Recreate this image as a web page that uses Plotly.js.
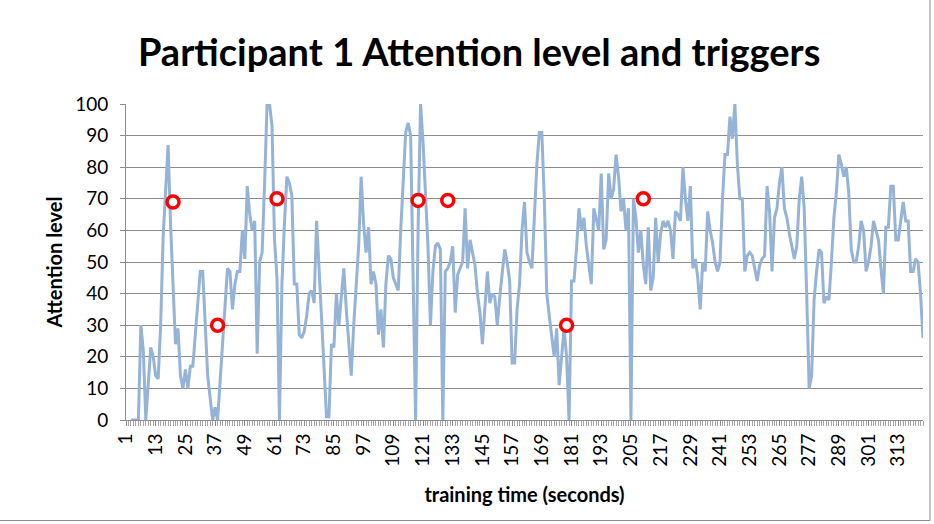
<!DOCTYPE html>
<html>
<head>
<meta charset="utf-8">
<script src="https://cdn.plot.ly/plotly-3.0.1.min.js"></script>
<style>html,body{margin:0;padding:0;background:#fff;}#chart{width:934px;height:524px;}</style>
</head>
<body>
<div id="chart"></div>
<script>
// Attention level per second (seconds 1..323); first two seconds have no reading
const attention = [
  null, null, 0, 0, 0, 0, 30, 22, 0, 12,
  23, 20, 14, 13, 30, 58, 75, 87, 62, 40,
  24, 29, 14, 10, 16, 10, 17, 17, 28, 38,
  47, 47, 30, 14, 7, 0, 4, 0, 12, 25,
  37, 48, 47, 35, 43, 47, 47, 60, 51, 74,
  65, 60, 63, 21, 50, 53, 75, 100, 100, 93,
  57, 45, 0, 43, 62, 77, 75, 71, 43, 43,
  27, 26, 28, 33, 40, 41, 37, 63, 48, 32,
  15, 1, 1, 24, 23, 40, 30, 40, 48, 35,
  25, 14, 30, 42, 55, 77, 62, 53, 61, 43,
  47, 43, 27, 35, 23, 43, 52, 51, 45, 43,
  41, 60, 78, 91, 94, 90, 45, 0, 60, 100,
  88, 70, 55, 30, 47, 55, 56, 54, 0, 47,
  48, 50, 55, 34, 46, 48, 50, 67, 48, 57,
  53, 49, 40, 34, 24, 36, 47, 37, 40, 39,
  30, 39, 47, 54, 50, 44, 18, 18, 35, 43,
  60, 69, 53, 50, 48, 65, 81, 91, 91, 70,
  40, 33, 26, 20, 29, 11, 20, 29, 20, 0,
  44, 44, 54, 67, 60, 64, 55, 49, 43, 67,
  63, 60, 78, 54, 57, 78, 70, 73, 84, 77,
  66, 70, 60, 67, 0, 70, 64, 53, 60, 49,
  43, 61, 41, 45, 64, 50, 59, 63, 61, 63,
  60, 51, 66, 65, 63, 80, 70, 63, 74, 48,
  51, 45, 35, 50, 47, 66, 60, 56, 50, 47,
  50, 70, 84, 84, 96, 89, 100, 81, 70, 70,
  47, 52, 53, 52, 48, 44, 49, 51, 52, 74,
  66, 47, 64, 67, 75, 80, 67, 64, 59, 55,
  51, 55, 70, 77, 67, 40, 10, 14, 38, 47,
  54, 53, 37, 39, 38, 50, 64, 72, 84, 81,
  77, 80, 72, 54, 50, 50, 55, 63, 60, 47,
  50, 55, 63, 60, 57, 48, 40, 61, 61, 74,
  74, 57, 57, 63, 69, 63, 63, 47, 47, 51,
  50, 40, 26
];
const seconds = attention.map((_, k) => k + 1);

// Trigger events (second, level)
const triggerSeconds = [20, 38, 62, 119, 131, 179, 210];
const triggerLevels = [69, 30, 70, 69.5, 69.5, 30, 70];

// X tick labels
const tickSeconds = [1, 13, 25, 37, 49, 61, 73, 85, 97, 109, 121, 133, 145, 157, 169, 181, 193, 205, 217, 229, 241, 253, 265, 277, 289, 301, 313];
const tickLabels = tickSeconds.map(String);

const FONT = 'Lato, "Open Sans", sans-serif';

const traces = [
  {
    x: seconds, y: attention, type: 'scatter', mode: 'lines',
    line: {color: '#95B3D7', width: 3},
    connectgaps: false, hoverinfo: 'x+y', name: 'Attention'
  },
  {
    x: triggerSeconds, y: triggerLevels, type: 'scatter', mode: 'markers',
    marker: {symbol: 'circle', size: 12, color: '#ffffff', line: {color: '#FF0000', width: 3.5}},
    name: 'Triggers'
  }
];

const layout = {
  width: 934, height: 524,
  margin: {l: 126, r: 11, t: 104, b: 104},
  paper_bgcolor: '#ffffff', plot_bgcolor: '#ffffff',
  showlegend: false,
  font: {family: FONT, color: '#000000'},
  title: {
    text: '<b>Participant 1 Attention level and triggers</b>',
    font: {family: FONT, size: 38, color: '#000000'},
    xref: 'container', yref: 'container', x: 0.513, y: 0.899,
    xanchor: 'center', yanchor: 'middle'
  },
  xaxis: {
    range: [1, 323],
    tickmode: 'array', tickvals: tickSeconds, ticktext: tickLabels,
    tickangle: -90,
    tickfont: {family: FONT, size: 19, color: '#000000'},
    ticks: 'outside', ticklen: 5, tickcolor: '#8c8c8c',
    minor: {tick0: 1, dtick: 1, ticks: 'outside', ticklen: 5, tickcolor: '#a6a6a6', showgrid: false},
    showline: true, linecolor: '#8c8c8c', linewidth: 1,
    showgrid: false, zeroline: false, automargin: false,
    title: {text: '<b>training time (seconds)</b>', font: {family: FONT, size: 20, color: '#000000'}, standoff: 22}
  },
  yaxis: {
    range: [0, 100], dtick: 10, tick0: 0,
    tickfont: {family: FONT, size: 19, color: '#000000'},
    ticklabelstandoff: 8,
    ticks: 'outside', ticklen: 5, tickcolor: '#8c8c8c',
    showline: true, linecolor: '#8c8c8c', linewidth: 1,
    showgrid: true, gridcolor: '#8c8c8c', gridwidth: 1,
    zeroline: false, automargin: false,
    title: {text: '<b>Attention level</b>', font: {family: FONT, size: 20, color: '#000000'}, standoff: 7}
  },
  shapes: [
    {type: 'rect', xref: 'paper', yref: 'paper',
     x0: -0.16, x1: 1.0088, y0: -0.318, y1: 1.34,
     line: {color: '#8c8c8c', width: 1}, fillcolor: 'rgba(0,0,0,0)', layer: 'below'}
  ]
};

Plotly.newPlot('chart', traces, layout, {displayModeBar: false, staticPlot: true});
</script>
</body>
</html>
